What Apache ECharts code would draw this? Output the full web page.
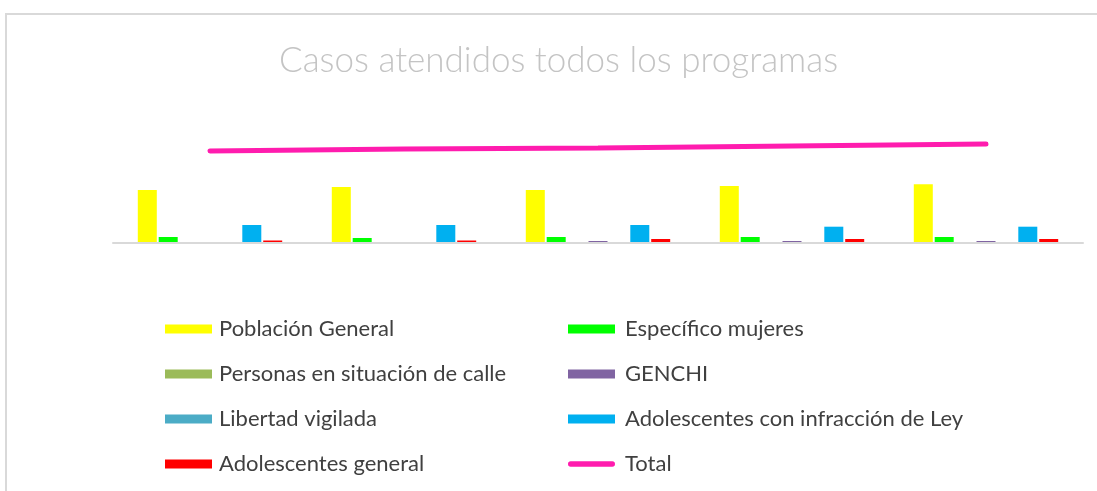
<!DOCTYPE html>
<html>
<head>
<meta charset="utf-8">
<script src="https://cdn.jsdelivr.net/npm/echarts@6/dist/echarts.min.js"></script>
<style>
  html, body { margin: 0; padding: 0; background: #fff; }
  #chart { width: 1097px; height: 491px; }
</style>
</head>
<body>
<div id="chart"></div>
<script>
// categories (no labels shown in the original)
const years = ["2011", "2012", "2013", "2014", "2015"]

// cases per program
const poblacionGeneral = [5300, 5600, 5300, 5700, 5870]
const especificoMujeres = [600, 500, 600, 600, 600]
const personasCalle = [0, 0, 0, 0, 0]
const genchi = [0, 0, 200, 200, 200]
const libertadVigilada = [0, 0, 0, 0, 0]
const adolescentesInfraccion = [1800, 1800, 1800, 1630, 1630]
const adolescentesGeneral = [250, 250, 400, 400, 400]
const total = [9200, 9400, 9500, 9700, 9900]

const chart = echarts.init(document.getElementById("chart"))

const bar = (name, data, color) => ({
  name,
  type: "bar",
  data,
  barWidth: 19,
  barGap: "10%",
  itemStyle: { color }
})

const legendText = {
  fontFamily: "Lato",
  fontSize: 22,
  color: "#404040",
  lineHeight: 20,
  padding: [0, 0, 0, 2]
}

// thick rounded line used as the Total legend icon
const lineIcon = "path://M3,0 L49,0 A3,3 0 0 1 49,6 L3,6 A3,3 0 0 1 3,0 Z"

chart.setOption({
  animation: false,
  backgroundColor: "#fff",
  title: {
    text: "Casos atendidos todos los programas",
    left: 274,
    top: 38,
    textStyle: {
      fontFamily: "Lato",
      fontWeight: 300,
      fontSize: 35,
      color: "#c4c4c4"
    }
  },
  graphic: [
    {
      type: "rect",
      shape: { x: 6, y: 14, width: 1200, height: 600 },
      style: { fill: "none", stroke: "#d9d9d9", lineWidth: 2 },
      silent: true
    }
  ],
  legend: [
    {
      orient: "vertical",
      left: 160,
      top: 313,
      itemWidth: 47,
      itemHeight: 9,
      itemGap: 23,
      icon: "rect",
      textStyle: legendText,
      data: ["Población General", "Personas en situación de calle", "Libertad vigilada", "Adolescentes general"]
    },
    {
      orient: "vertical",
      left: 563,
      top: 313,
      itemWidth: 47,
      itemHeight: 9,
      itemGap: 23,
      textStyle: { ...legendText, padding: [0, 0, 0, 5] },
      data: [
        { name: "Específico mujeres", icon: "rect" },
        { name: "GENCHI", icon: "rect" },
        { name: "Adolescentes con infracción de Ley", icon: "rect" },
        { name: "Total", icon: lineIcon }
      ]
    }
  ],
  grid: { left: 113, right: 14, top: 123, bottom: 248 },
  xAxis: {
    type: "category",
    data: years,
    z: 3,
    axisLine: { lineStyle: { color: "#d9d9d9", width: 2 } },
    axisTick: { show: false },
    axisLabel: { show: false }
  },
  yAxis: {
    type: "value",
    min: 0,
    max: 12000,
    show: false,
    splitLine: { show: false }
  },
  series: [
    bar("Población General", poblacionGeneral, "#ffff00"),
    bar("Específico mujeres", especificoMujeres, "#00ff00"),
    bar("Personas en situación de calle", personasCalle, "#9bbb59"),
    bar("GENCHI", genchi, "#8064a2"),
    bar("Libertad vigilada", libertadVigilada, "#4bacc6"),
    bar("Adolescentes con infracción de Ley", adolescentesInfraccion, "#00b0f0"),
    bar("Adolescentes general", adolescentesGeneral, "#ff0000"),
    {
      name: "Total",
      type: "line",
      data: total,
      symbol: "none",
      itemStyle: { color: "#ff1cae" },
      lineStyle: { color: "#ff1cae", width: 5, cap: "round" }
    }
  ]
})
</script>
</body>
</html>
